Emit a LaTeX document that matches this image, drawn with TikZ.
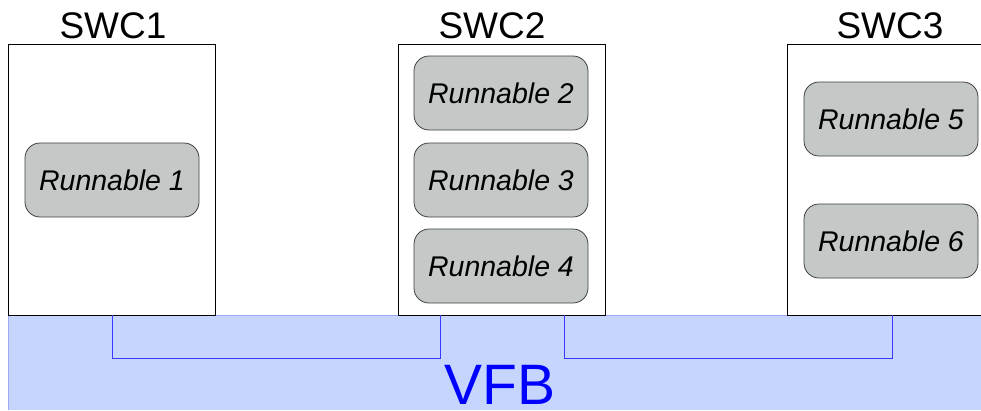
\documentclass[tikz,border=0pt]{standalone}
\usepackage{fontspec}
\setmainfont{Liberation Sans}
\definecolor{runfill}{HTML}{C4C9C8}
\definecolor{runline}{HTML}{404040}
\definecolor{vfbfill}{HTML}{C5D5FD}
\definecolor{vfbedge}{HTML}{A0A8F8}
\definecolor{conn}{HTML}{3838FF}
\tikzset{
  swcbox/.style={draw=black, line width=1pt, fill=white},
  runbox/.style={draw=runline, line width=0.8pt, fill=runfill, rounded corners=15pt,
     minimum width=174pt, minimum height=74pt, inner sep=0pt,
     font=\fontsize{28.5}{31}\selectfont\itshape},
  swclabel/.style={anchor=base, inner sep=0pt, font=\fontsize{37}{40}\selectfont},
  connector/.style={draw=conn, line width=1pt}
}
\begin{document}
\begin{tikzpicture}[x=1pt,y=-1pt]
\useasboundingbox (0,0) rectangle (981,410);
% VFB bar
\node[fill=vfbfill, draw=none, minimum width=973pt, minimum height=95pt, inner sep=0pt, anchor=north west] (vfb) at (8,315) {};
\draw[vfbedge, line width=1pt] (vfb.south west) -- (vfb.north west) -- (vfb.north east);
\node[anchor=base, inner sep=0pt, text=blue, font=\fontsize{57}{60}\selectfont] (vfbtext) at (500,404) {VFB};
% SWC boxes
\node[swcbox, anchor=north west, minimum width=207pt, minimum height=271pt, inner sep=0pt] (swc1) at (8,44) {};
\node[swcbox, anchor=north west, minimum width=207pt, minimum height=271pt, inner sep=0pt] (swc2) at (398,44) {};
\node[swcbox, anchor=north west, minimum width=200pt, minimum height=271pt, inner sep=0pt] (swc3) at (787,44) {};
\node[swclabel] (l1) at (113,38) {SWC1};
\node[swclabel] (l2) at (492,38) {SWC2};
\node[swclabel] (l3) at (890,38) {SWC3};
% Runnables
\node[runbox] (r1) at (112,180) {Runnable 1};
\node[runbox] (r2) at (501,93) {Runnable 2};
\node[runbox] (r3) at (501,180) {Runnable 3};
\node[runbox] (r4) at (501,266) {Runnable 4};
\node[runbox] (r5) at (891,119) {Runnable 5};
\node[runbox] (r6) at (891,241) {Runnable 6};
% Connectors
\coordinate (c1a) at (112,315);
\coordinate (c1b) at (440,315);
\coordinate (c2a) at (564,315);
\coordinate (c2b) at (892,315);
\draw[connector] (c1a) -- ++(0,43) -| (c1b);
\draw[connector] (c2a) -- ++(0,43) -| (c2b);
\end{tikzpicture}
\end{document}
